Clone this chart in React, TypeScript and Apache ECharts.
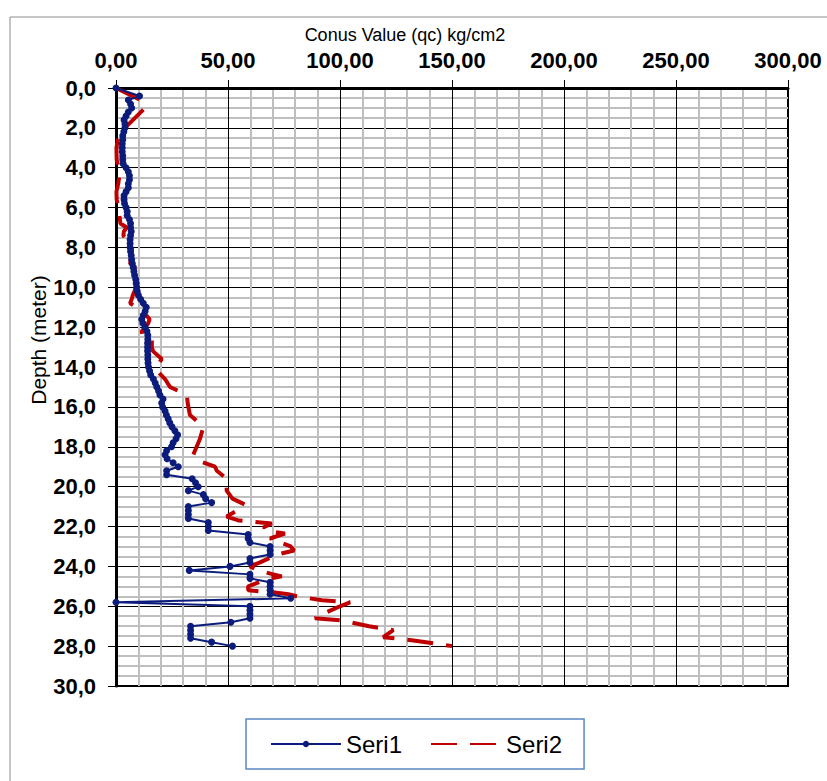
import React, { useEffect, useRef } from "react";
import * as echarts from "echarts";

// Seri1 (navy, markers): depth (m) and conus value (kg/cm2)
const depth1 = [
  0, 0.4, 0.6, 0.8, 1.0, 1.2, 1.4, 1.6, 1.8,
  2.0, 2.2, 2.4, 2.6, 2.8, 3.0, 3.2, 3.4, 3.6, 3.8,
  4.0, 4.2, 4.4, 4.6, 4.8, 5.0, 5.2, 5.4, 5.6, 5.8,
  6.0, 6.2, 6.4, 6.6, 6.8, 7.0, 7.2, 7.4, 7.6, 7.8,
  8.0, 8.2, 8.4, 8.6, 8.8, 9.0, 9.2, 9.4, 9.6, 9.8,
  10.0, 10.2, 10.4, 10.6, 10.8, 11.0, 11.2, 11.4, 11.6, 11.8,
  12.0, 12.2, 12.4, 12.6, 12.8, 13.0, 13.2, 13.4, 13.6, 13.8,
  14.0, 14.2, 14.4, 14.6, 14.8, 15.0, 15.2, 15.4, 15.6, 15.8,
  16.0, 16.2, 16.4, 16.6, 16.8, 17.0, 17.2, 17.4, 17.6, 17.8,
  18.0, 18.2, 18.4, 18.6, 18.8, 19.0, 19.2, 19.4, 19.6, 19.8,
  20.0, 20.2, 20.4, 20.6, 20.8, 21.0, 21.2, 21.4, 21.6, 21.8,
  22.0, 22.2, 22.4, 22.6, 22.8, 23.0, 23.2, 23.4, 23.6, 23.8,
  24.0, 24.2, 24.4, 24.6, 24.8, 25.0, 25.2, 25.4, 25.6, 25.8,
  26.0, 26.2, 26.4, 26.6, 26.8, 27.0, 27.2, 27.4, 27.6, 27.8,
  28.0,
];
const qc1 = [
  0, 10.5, 5.5, 6.5, 7.0, 5.5, 4.5, 3.6, 4.0,
  4.0, 3.5, 3.0, 3.0, 2.8, 2.8, 2.8, 3.0, 3.0, 3.2,
  4.5, 5.5, 6.0, 6.0, 5.5, 5.5, 4.5, 3.6, 3.6, 3.8,
  4.5, 5.0, 5.0, 6.0, 6.5, 6.5, 6.8, 6.5, 6.3, 6.3,
  6.3, 6.5, 6.8, 7.0, 7.3, 7.7, 8.0, 8.3, 8.8, 9.0,
  9.2, 9.5, 10.0, 11.0, 12.2, 13.5, 13.0, 12.2, 11.5, 12.0,
  13.0, 13.8, 14.2, 14.2, 14.1, 14.1, 14.1, 14.2, 14.2, 14.3,
  14.5, 15.0, 15.5, 16.7, 17.5, 18.2, 19.0, 19.6, 21.0, 20.4,
  20.8, 21.9, 22.5, 23.3, 24.0, 25.0, 26.3, 27.5, 26.8, 25.5,
  24.8, 22.6, 21.9, 22.8, 25.5, 27.8, 22.6, 22.6, 34.0, 35.5,
  36.7, 32.3, 39.0, 40.0, 42.7, 32.3, 32.3, 32.3, 32.3, 41.2,
  41.2, 41.2, 59.0, 59.0, 59.8, 68.8, 68.8, 68.8, 59.8, 59.8,
  50.9, 32.7, 59.8, 59.8, 68.8, 68.8, 68.8, 68.8, 78.0, 0,
  59.8, 59.8, 59.8, 59.8, 51.3, 33.3, 33.3, 33.3, 33.3, 42.7,
  52.0,
];

// Seri2 (red dashed)
const depth2 = [
  0, 0.6, 1.0, 2.0, 2.4, 2.6, 3.0, 3.6, 4.0, 4.4, 4.8, 5.2, 5.6, 6.0,
  6.4, 6.8, 7.0, 7.2, 7.4, 7.8, 8.0, 8.4, 8.8, 9.0, 9.2, 9.6, 10.0,
  10.4, 10.6, 10.8, 11.0, 11.2, 11.4, 11.6, 11.8, 12.2, 12.4, 12.6,
  13.0, 13.2, 13.6, 14.0, 14.2, 14.6, 15.0, 15.4, 15.8, 16.0, 16.4,
  17.0, 17.6, 18.0, 18.4, 18.7, 19.0, 19.2, 19.6, 20.2, 20.6, 20.9,
  21.2, 21.5, 21.7, 21.85, 22.05, 22.25, 22.35, 22.6, 23.0, 23.2,
  23.4, 23.8, 24.0, 24.2, 24.4, 24.5, 24.65, 25.0, 25.2, 25.3, 25.4,
  25.5, 25.7, 25.8, 26.0, 26.3, 26.6, 26.7, 27.0, 27.2, 27.55, 27.7,
  28.0,
];
const qc2 = [
  0, 11, 13, 4, 1.5, 0.8, 0.2, 0.3, 1.2, 1.5, 1.0, 0.2, 0.3, 1.2,
  1.5, 2.0, 4.8, 3.5, 3.3, 6.0, 7.2, 6.8, 6.3, 8.5, 7.7, 10.0, 9.0,
  7.5, 7.0, 6.3, 9.2, 11.5, 13.5, 15.0, 14.4, 11.5, 11.8, 16.0,
  16.0, 16.5, 20.4, 18.0, 18.5, 21.9, 24.1, 31.6, 32.0, 32.3, 33.0,
  39.0, 37.5, 36.0, 34.5, 36.7, 44.2, 45.0, 49.4, 49.4, 52.0, 57.6,
  54.0, 49.4, 55.0, 69.5, 65.8, 69.5, 75.4, 68.8, 78.0, 79.5,
  72.0, 64.3, 59.8, 63.5, 70.2, 74.0, 67.3, 59.0, 59.0, 70.0, 77.0,
  80.7, 92.0, 104.5, 100.0, 94.0, 88.8, 100.0, 113.0, 123.8, 119.3, 132.0,
  150.0,
];

const seriesNames = ["Seri1", "Seri2"];
const xTitle = "Conus Value (qc) kg/cm2";
const yTitle = "Depth (meter)";

const FONT = "'Liberation Sans', Arial, sans-serif";

export default function App() {
  const ref = useRef<HTMLDivElement>(null);
  useEffect(() => {
    const chart = echarts.init(ref.current!, null, { renderer: "svg" });
    chart.setOption({
      animation: false,
      backgroundColor: "#fff",
      graphic: [
        {
          type: "rect",
          silent: true,
          z: -10,
          shape: { x: 10, y: 17, width: 840, height: 800 },
          style: { fill: "transparent", stroke: "#8c8c8c", lineWidth: 1 },
        },
        {
          type: "text",
          silent: true,
          x: 405,
          y: 35,
          style: {
            text: xTitle,
            fontSize: 18,
            fontFamily: FONT,
            fill: "#000",
            align: "center",
            verticalAlign: "middle",
          },
        },
        {
          type: "text",
          silent: true,
          x: 38,
          y: 340,
          rotation: Math.PI / 2,
          style: {
            text: yTitle,
            fontSize: 21,
            fontFamily: FONT,
            fill: "#000",
            align: "center",
            verticalAlign: "middle",
          },
        },
      ],
      grid: {
        left: 116,
        top: 88,
        width: 672,
        height: 598,
        show: true,
        borderColor: "#000",
        borderWidth: 2,
        backgroundColor: "transparent",
      },
      legend: {
        left: 246,
        top: 719,
        data: [
          { name: seriesNames[0] },
          { name: seriesNames[1], itemStyle: { opacity: 0 } },
        ],
        orient: "horizontal",
        borderColor: "#5b87c5",
        borderWidth: 1.5,
        padding: [13, 22, 13, 24],
        itemWidth: 70,
        itemHeight: 8,
        itemGap: 28,
        textStyle: { fontSize: 24, color: "#000", fontFamily: FONT },
      },
      xAxis: {
        type: "value",
        position: "top",
        min: 0,
        max: 300,
        interval: 50,
        axisLine: { show: true, onZero: false, lineStyle: { color: "#000", width: 3 } },
        axisTick: { show: true, inside: false, length: 8, lineStyle: { color: "#000", width: 1 } },
        axisLabel: {
          margin: 17,
          color: "#000",
          fontSize: 22,
          fontWeight: "bold",
          fontFamily: FONT,
          formatter: (v: number) => v.toFixed(2).replace(".", ","),
        },
        splitLine: { show: true, lineStyle: { color: "#000", width: 1 } },
        minorTick: { show: false, splitNumber: 5 },
        minorSplitLine: { show: true, lineStyle: { color: "#bfbfbf", width: 2 } },
      },
      yAxis: {
        type: "value",
        inverse: true,
        min: 0,
        max: 30,
        interval: 2,
        axisLine: { show: true, onZero: false, lineStyle: { color: "#000", width: 3 } },
        axisTick: { show: true, inside: false, length: 8, lineStyle: { color: "#000", width: 1 } },
        axisLabel: {
          margin: 20,
          color: "#000",
          fontSize: 22,
          fontWeight: "bold",
          fontFamily: FONT,
          formatter: (v: number) => v.toFixed(1).replace(".", ","),
        },
        splitLine: { show: true, lineStyle: { color: "#000", width: 1 } },
        minorTick: { show: false, splitNumber: 4 },
        minorSplitLine: { show: true, lineStyle: { color: "#bfbfbf", width: 2 } },
      },
      series: [
        {
          name: seriesNames[0],
          type: "line",
          data: depth1.map((d, i) => [qc1[i], d]),
          symbol: "circle",
          symbolSize: 7,
          showSymbol: true,
          lineStyle: { color: "#0c1c7c", width: 2 },
          itemStyle: { color: "#0c1c7c" },
          z: 3,
        },
        {
          name: seriesNames[1],
          type: "line",
          data: depth2.map((d, i) => [qc2[i], d]),
          symbol: "none",
          lineStyle: { color: "#c00000", width: 4, type: [26, 13] },
          itemStyle: { color: "#c00000" },
          z: 2,
        },
      ],
    });
    return () => chart.dispose();
  }, []);
  return (
    <div
      ref={ref}
      style={{ position: "fixed", left: 0, top: 0, width: 827, height: 781, background: "#fff" }}
    />
  );
}
